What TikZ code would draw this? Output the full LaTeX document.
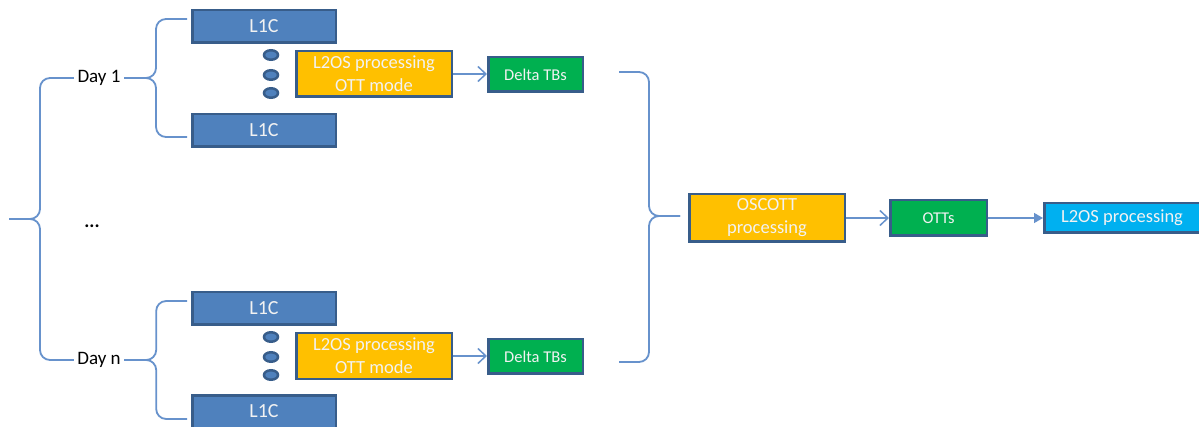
\documentclass[tikz,border=0pt]{standalone}
\usepackage{fontspec}
\setmainfont{Carlito}
\usepackage{tikz}
\usetikzlibrary{shapes.geometric, arrows.meta}
\definecolor{boxblue}{RGB}{79, 129, 189}
\definecolor{edgeblue}{RGB}{56, 93, 138}
\definecolor{braceblue}{RGB}{103, 146, 204}
\definecolor{procyellow}{RGB}{255, 192, 0}
\definecolor{tbgreen}{RGB}{0, 176, 80}
\definecolor{outcyan}{RGB}{0, 176, 240}

\begin{document}
\begin{tikzpicture}[
    x=1pt, y=-1pt,
    box/.style={draw=edgeblue, line width=2.5pt, fill=#1, text=white!95!black,
        font=\fontsize{18.5}{23}\selectfont, align=center, inner sep=0pt},
    box/.default=boxblue,
    small/.style={font=\fontsize{16.5}{20}\selectfont},
    big/.style={font=\fontsize{20}{24}\selectfont},
    dot/.style={ellipse, draw=edgeblue, line width=2.5pt, fill=boxblue,
        minimum width=14pt, minimum height=9.5pt, inner sep=0pt},
    label text/.style={font=\fontsize{19}{23}\selectfont, text=black},
    % Style for the curly braces
    brace/.style={draw=braceblue, line width=1.8pt, rounded corners=10pt},
    flow/.style={draw=braceblue, line width=1.5pt}
]
    \useasboundingbox (0,0) rectangle (1199,427);

    % Coordinates
    \coordinate (left_tip) at (9,219);
    \coordinate (right_tip) at (680,216);
    \coordinate (tb_top) at (619,72);
    \coordinate (tb_bot) at (619,362);
    \coordinate (b1_top) at (187,19);
    \coordinate (b1_bot) at (187,137);
    \coordinate (bn_top) at (187,301);
    \coordinate (bn_bot) at (187,419);

    % Day 1
    \node[label text] (day_1) at (99,78) {Day 1};
    \node[box, big, minimum width=143.5pt, minimum height=32.5pt] (l1c_1a) at (264,26.5) {L1C};
    \node[box, big, minimum width=143.5pt, minimum height=32.5pt] (l1c_1b) at (264,130.5) {L1C};
    \node[dot] (dot_1a) at (271,55) {};
    \node[dot] (dot_1b) at (271,75) {};
    \node[dot] (dot_1c) at (271,93) {};
    \node[box=procyellow, minimum width=155.5pt, minimum height=45.5pt] (ott_1) at (374,74) {L2OS processing\\OTT mode};
    \node[box=tbgreen, small, minimum width=94.5pt, minimum height=34.5pt] (delta_1) at (535.5,74.5) {Delta TBs};

    % Day n
    \node[label text] (day_n) at (99,360) {Day n};
    \node[box, big, minimum width=143.5pt, minimum height=32.5pt] (l1c_na) at (264,308.5) {L1C};
    \node[box, big, minimum width=143.5pt, minimum height=32.5pt] (l1c_nb) at (264,411.5) {L1C};
    \node[dot] (dot_na) at (271,337) {};
    \node[dot] (dot_nb) at (271,357) {};
    \node[dot] (dot_nc) at (271,375) {};
    \node[box=procyellow, minimum width=155.5pt, minimum height=45.5pt] (ott_n) at (374,356) {L2OS processing\\OTT mode};
    \node[box=tbgreen, small, minimum width=94.5pt, minimum height=34.5pt] (delta_n) at (535.5,356.5) {Delta TBs};

    \node[label text] (more) at (92,226) {\textbf{...}};

    % Merge and final chain
    \node[box=procyellow, minimum width=155.5pt, minimum height=47.5pt] (oscott) at (767,218) {OSCOTT\\processing};
    \node[box=tbgreen, small, minimum width=96.5pt, minimum height=35.5pt] (otts) at (938.5,218) {OTTs};
    \node[box=outcyan, minimum width=155.5pt, minimum height=29.5pt] (l2os) at (1122,218) {L2OS processing};

    % Braces
    \draw[brace] (day_1.west) -- (40,78) |- (left_tip);
    \draw[brace] (day_n.west) -- (40,360) |- (left_tip);
    \draw[brace] (day_1.east) -- ++(32,0) |- (b1_top);
    \draw[brace] (day_1.east) -- ++(32,0) |- (b1_bot);
    \draw[brace] (day_n.east) -- ++(32,0) |- (bn_top);
    \draw[brace] (day_n.east) -- ++(32,0) |- (bn_bot);
    \draw[brace] (tb_top) -- (649,72) |- (right_tip);
    \draw[brace] (tb_bot) -- (649,362) |- (right_tip);

    % Arrows
    \draw[flow, -{Straight Barb[length=8pt, width=15pt]}] (ott_1.east) -- (ott_1.east -| delta_1.west);
    \draw[flow, -{Straight Barb[length=8pt, width=15pt]}] (ott_n.east) -- (ott_n.east -| delta_n.west);
    \draw[flow, -{Straight Barb[length=8pt, width=15pt]}] (oscott) -- (otts);
    \draw[flow, -{Triangle[length=9pt, width=10pt]}] (otts) -- (l2os);

\end{tikzpicture}
\end{document}
